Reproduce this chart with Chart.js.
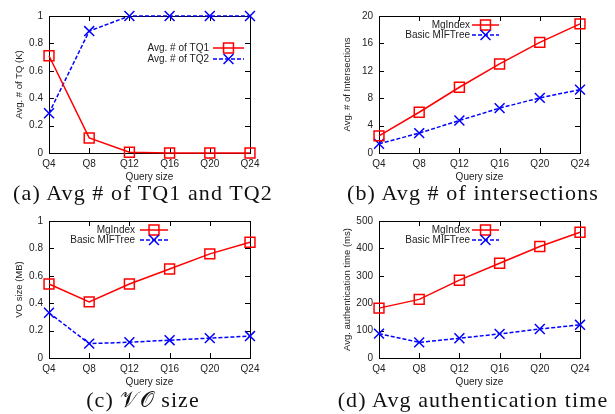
<!DOCTYPE html>
<html>
<head>
<meta charset="utf-8">
<script src="https://cdn.jsdelivr.net/npm/chart.js@4.4.1/dist/chart.umd.min.js"></script>
<style>
  body { margin: 0; background: #fff; }
  #wrap { position: relative; width: 615px; height: 414px; overflow: hidden; }
  canvas { position: absolute; }
  .cap {
    position: absolute; width: 330px; text-align: center;
    font-family: "Liberation Serif", "Times New Roman", serif;
    font-size: 22px; line-height: 22px; color: #111;
    letter-spacing: 1.1px; white-space: nowrap;
  }
</style>
</head>
<body>
<div id="wrap">
  <canvas id="chart-a" width="270" height="185" style="left:0;top:0"></canvas>
  <canvas id="chart-b" width="295" height="185" style="left:305px;top:0"></canvas>
  <canvas id="chart-c" width="270" height="185" style="left:0;top:205px"></canvas>
  <canvas id="chart-d" width="295" height="185" style="left:305px;top:205px"></canvas>
  <div class="cap" style="left:-22px;top:182px">(a) Avg # of TQ1 and TQ2</div>
  <div class="cap" style="left:308px;top:182px">(b) Avg # of intersections</div>
  <div class="cap" style="left:-22px;top:389px">(c) 𝒱𝒪 size</div>
  <div class="cap" style="left:308px;top:389px">(d) Avg authentication time</div>
</div>
<script>
const querySizes = ['Q4', 'Q8', 'Q12', 'Q16', 'Q20', 'Q24'];

const tq1Avg = [0.71, 0.11, 0.005, 0, 0, 0];
const tq2Avg = [0.29, 0.89, 1, 1, 1, 1];

const mgIndexIntersections = [2.5, 5.95, 9.6, 13.0, 16.15, 18.85];
const mifTreeIntersections = [1.35, 2.9, 4.75, 6.55, 8.05, 9.25];

const mgIndexVoSize = [0.54, 0.41, 0.54, 0.65, 0.76, 0.845];
const mifTreeVoSize = [0.33, 0.105, 0.115, 0.13, 0.145, 0.16];

const mgIndexAuthTime = [182, 214, 284, 346, 407, 459];
const mifTreeAuthTime = [89, 57, 72, 88, 106, 121];

const ticksFraction = [0, 0.2, 0.4, 0.6, 0.8, 1];
const ticksIntersections = [0, 4, 8, 12, 16, 20];
const ticksAuthTime = [0, 100, 200, 300, 400, 500];

Chart.defaults.font.family = '"Liberation Sans", Arial, sans-serif';
Chart.defaults.font.size = 10;
Chart.defaults.color = '#222';

// draw square / X markers (for the key)
function drawMarker(ctx, style, r, x, y) {
  ctx.beginPath();
  if (style === 'rect') {
    const s = r * Math.SQRT1_2;
    ctx.rect(x - s, y - s, 2 * s, 2 * s);
  } else {
    const d = r * Math.SQRT1_2;
    ctx.moveTo(x - d, y - d); ctx.lineTo(x + d, y + d);
    ctx.moveTo(x + d, y - d); ctx.lineTo(x - d, y + d);
  }
  ctx.stroke();
}

// gnuplot style border with inward ticks on all sides
const gnuplotFrame = {
  id: 'gnuplotFrame',
  beforeDatasetsDraw(chart) {
    const { ctx, chartArea: a, scales: { x, y } } = chart;
    ctx.save();
    ctx.strokeStyle = '#000';
    ctx.lineWidth = 1;
    const seg = (x1, y1, x2, y2) => { ctx.beginPath(); ctx.moveTo(x1, y1); ctx.lineTo(x2, y2); ctx.stroke(); };
    ctx.strokeRect(a.left + 0.5, a.top + 0.5, a.width, a.height);
    x.ticks.forEach((t, i) => {
      const px = Math.round(x.getPixelForTick(i)) + 0.5;
      seg(px, a.bottom, px, a.bottom - 5);
      seg(px, a.top, px, a.top + 5);
    });
    y.ticks.forEach((t, i) => {
      const py = Math.round(y.getPixelForTick(i)) + 0.5;
      seg(a.left, py, a.left + 5, py);
      seg(a.right, py, a.right - 5, py);
    });
    ctx.restore();
  }
};

// key: right aligned text, then a sample of the line with its marker
const gnuplotKey = {
  id: 'gnuplotKey',
  afterDatasetsDraw(chart, args, opts) {
    const { ctx, chartArea: a } = chart;
    const base = opts.side === 'right' ? a.right : a.left;
    chart.data.datasets.forEach((ds, i) => {
      const yy = a.top + opts.rows[i];
      ctx.save();
      ctx.font = '10px "Liberation Sans", Arial, sans-serif';
      ctx.fillStyle = '#222';
      ctx.textAlign = 'right';
      ctx.textBaseline = 'middle';
      ctx.fillText(ds.label, base + opts.textEnd, yy);
      ctx.strokeStyle = ds.borderColor;
      ctx.lineWidth = ds.borderWidth;
      ctx.setLineDash(ds.borderDash || []);
      ctx.beginPath();
      ctx.moveTo(base + opts.lineStart, yy);
      ctx.lineTo(base + opts.lineEnd, yy);
      ctx.stroke();
      ctx.setLineDash([]);
      ctx.lineWidth = ds.pointBorderWidth;
      drawMarker(ctx, ds.pointStyle, ds.pointRadius, base + (opts.lineStart + opts.lineEnd) / 2, yy);
      ctx.restore();
    });
  }
};

function redSet(label, data) {
  return {
    label, data,
    borderColor: '#ff0000', borderWidth: 1.5,
    pointStyle: 'rect', pointRadius: 7, pointBorderWidth: 1.5,
    pointBorderColor: '#ff0000', pointBackgroundColor: 'rgba(0,0,0,0)',
    tension: 0, clip: false
  };
}

function blueSet(label, data) {
  return {
    label, data,
    borderColor: '#0000ff', borderWidth: 1.5, borderDash: [4, 2],
    pointStyle: 'crossRot', pointRadius: 7, pointBorderWidth: 1.5,
    pointBorderColor: '#0000ff', pointBackgroundColor: 'rgba(0,0,0,0)',
    tension: 0, clip: false
  };
}

function makeChart(id, cfg) {
  return new Chart(document.getElementById(id), {
    type: 'line',
    data: { labels: querySizes, datasets: cfg.datasets },
    options: {
      responsive: false,
      animation: false,
      layout: { padding: { left: 0, right: 20, top: 16, bottom: 0 } },
      plugins: {
        legend: { display: false },
        tooltip: { enabled: false },
        gnuplotKey: cfg.key
      },
      scales: {
        x: {
          offset: false,
          grid: { display: false, drawTicks: false },
          border: { display: false },
          ticks: { padding: 5, maxRotation: 0, autoSkip: false },
          title: { display: true, text: 'Query size', padding: { top: 0, bottom: 2 } },
          afterFit(s) { s.height = 32; }
        },
        y: {
          min: cfg.ticks[0],
          max: cfg.ticks[cfg.ticks.length - 1],
          grid: { display: false, drawTicks: false },
          border: { display: false },
          afterBuildTicks(s) { s.ticks = cfg.ticks.map(v => ({ value: v })); },
          ticks: { padding: 6, callback: v => String(v) },
          title: { display: true, text: cfg.yTitle, font: { size: 9.5 }, padding: { top: cfg.titlePad, bottom: 0 } },
          afterFit(s) { s.width = cfg.yWidth; }
        }
      }
    },
    plugins: [gnuplotFrame, gnuplotKey]
  });
}

makeChart('chart-a', {
  datasets: [redSet('Avg. # of TQ1', tq1Avg), blueSet('Avg. # of TQ2', tq2Avg)],
  ticks: ticksFraction, yTitle: 'Avg. # of TQ (K)', yWidth: 49, titlePad: 14,
  key: { side: 'right', textEnd: -41, lineStart: -37, lineEnd: -6, rows: [32, 43] }
});

makeChart('chart-b', {
  datasets: [redSet('MgIndex', mgIndexIntersections), blueSet('Basic MIFTree', mifTreeIntersections)],
  ticks: ticksIntersections, yTitle: 'Avg. # of Intersections', yWidth: 74, titlePad: 37,
  key: { side: 'left', textEnd: 91, lineStart: 93, lineEnd: 120, rows: [9, 19] }
});

makeChart('chart-c', {
  datasets: [redSet('MgIndex', mgIndexVoSize), blueSet('Basic MIFTree', mifTreeVoSize)],
  ticks: ticksFraction, yTitle: 'VO size (MB)', yWidth: 49, titlePad: 14,
  key: { side: 'left', textEnd: 86, lineStart: 91, lineEnd: 119, rows: [9, 19] }
});

makeChart('chart-d', {
  datasets: [redSet('MgIndex', mgIndexAuthTime), blueSet('Basic MIFTree', mifTreeAuthTime)],
  ticks: ticksAuthTime, yTitle: 'Avg. authentication time (ms)', yWidth: 74, titlePad: 37,
  key: { side: 'left', textEnd: 91, lineStart: 93, lineEnd: 120, rows: [9, 19] }
});
</script>
</body>
</html>
